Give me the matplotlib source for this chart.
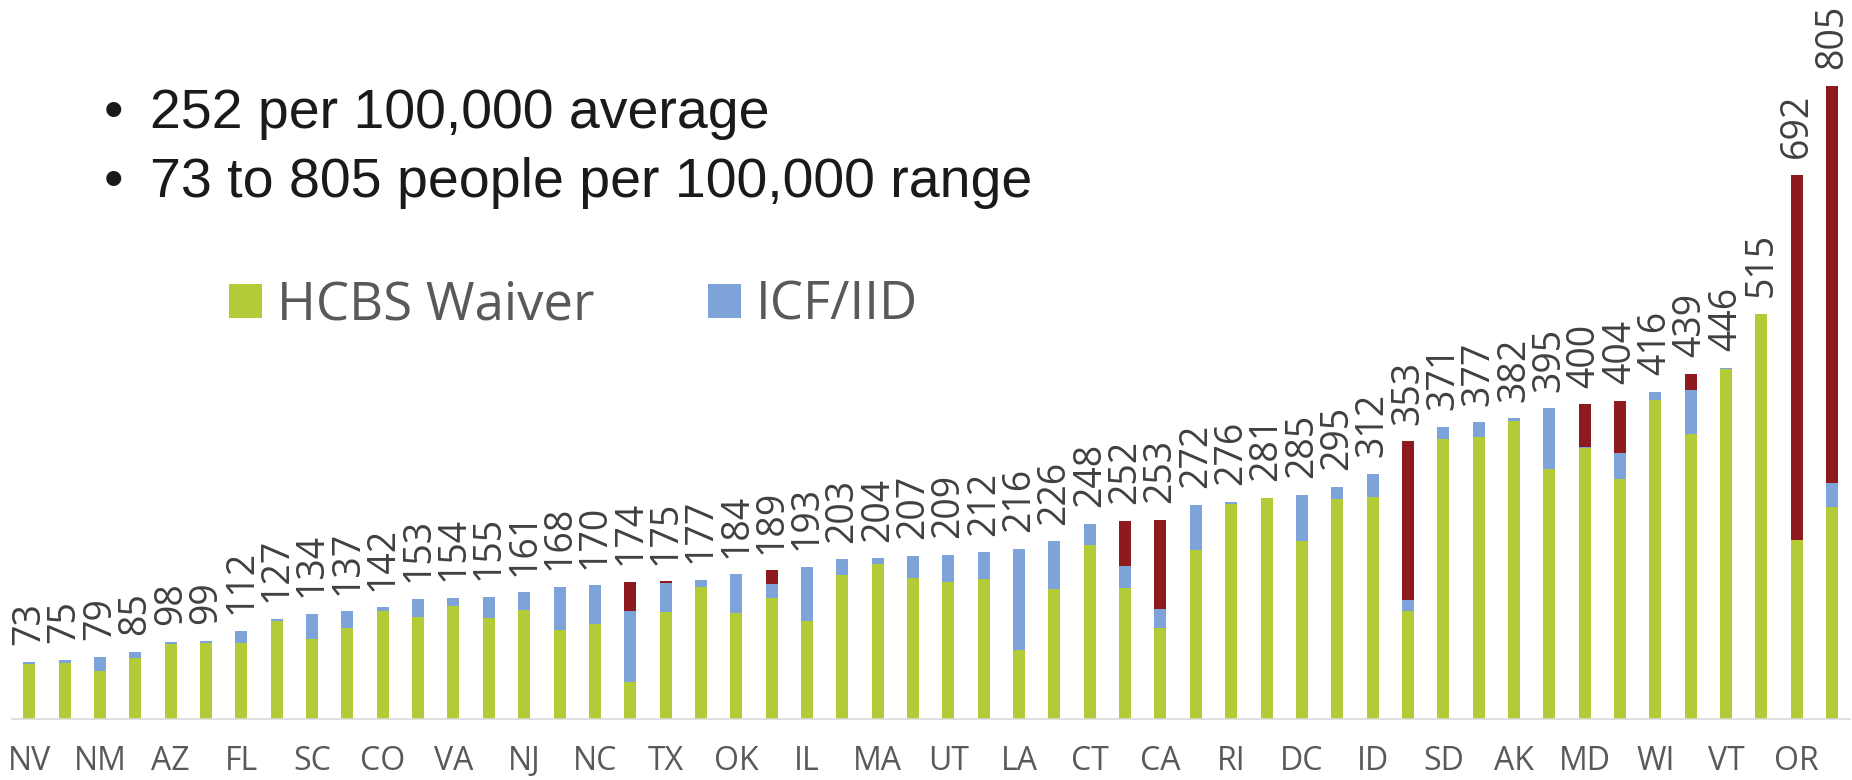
import matplotlib
matplotlib.use("Agg")
import matplotlib.pyplot as plt
from matplotlib.font_manager import FontProperties
import numpy as np

# ---- data ----
states = ['NV', '', 'NM', '', 'AZ', '', 'FL', '', 'SC', '', 'CO', '', 'VA', '',
          'NJ', '', 'NC', '', 'TX', '', 'OK', '', 'IL', '', 'MA', '', 'UT', '',
          'LA', '', 'CT', '', 'CA', '', 'RI', '', 'DC', '', 'ID', '', 'SD', '',
          'AK', '', 'MD', '', 'WI', '', 'VT', '', 'OR', '']
totals = [73, 75, 79, 85, 98, 99, 112, 127, 134, 137, 142, 153, 154, 155, 161,
          168, 170, 174, 175, 177, 184, 189, 193, 203, 204, 207, 209, 212, 216,
          226, 248, 252, 253, 272, 276, 281, 285, 295, 312, 353, 371, 377, 382,
          395, 400, 404, 416, 439, 446, 515, 692, 805]
hcbs_waiver = [70, 71, 61, 77, 95, 97, 96, 125, 102, 116, 137, 130, 144, 128, 138,
               113, 121, 47, 136, 168, 135, 154, 125, 183, 197, 179, 174, 178, 88,
               165, 221, 166, 116, 215, 273, 281, 226, 280, 282, 137, 356, 358, 379,
               318, 344, 305, 405, 362, 445, 515, 228, 269]
icf_iid = [3, 4, 18, 8, 3, 2, 16, 2, 32, 21, 5, 23, 10, 27, 23,
           55, 49, 90, 37, 9, 49, 17, 68, 20, 7, 28, 35, 34, 128,
           61, 27, 28, 24, 57, 3, 0, 59, 15, 30, 14, 15, 19, 3,
           77, 2, 33, 11, 56, 1, 0, 0, 31]
other = [0, 0, 0, 0, 0, 0, 0, 0, 0, 0, 0, 0, 0, 0, 0,
         0, 0, 37, 2, 0, 0, 18, 0, 0, 0, 0, 0, 0, 0,
         0, 0, 58, 113, 0, 0, 0, 0, 0, 0, 202, 0, 0, 0,
         0, 54, 66, 0, 21, 0, 0, 464, 505]
series_names = ['HCBS Waiver', 'ICF/IID']
bullets = ['252 per 100,000 average', '73 to 805 people per 100,000 range']

GREEN = '#B2CB36'
BLUE = '#7EA3D9'
RED = '#8C1A1F'

W, H = 1852, 780
fig = plt.figure(figsize=(W / 100, H / 100), dpi=100)
scale = 0.7868  # px per unit
ymax = 900
ax = fig.add_axes([11.6 / W, 61 / H, (1849.8 - 11.6) / W, ymax * scale / H])

x = np.arange(len(states))
g = np.array(hcbs_waiver)
b = np.array(icf_iid)
r = np.array(other)
bw = 0.34
bg = ax.bar(x, g, bw, color=GREEN, label=series_names[0])
bb = ax.bar(x, b, bw, bottom=g, color=BLUE, label=series_names[1])
br = ax.bar(x, r, bw, bottom=g + b, color=RED)

top = g + b + r
for i, t in enumerate(totals):
    ax.annotate(str(t), (x[i], top[i]), xytext=(0, 12), textcoords='offset points',
                rotation=90, ha='center', va='bottom', family='Open Sans',
                fontsize=27, color='#404040')

ax.set_xlim(-0.5, len(states) - 0.5)
ax.set_ylim(0, ymax)
ax.set_xticks(x)
ax.set_xticklabels(states, family='Open Sans', fontsize=23, color='#595959')
ax.tick_params(axis='x', length=0, pad=19)
ax.set_yticks([])
for s in ['left', 'right', 'top']:
    ax.spines[s].set_visible(False)
ax.spines['bottom'].set_color('#D9D9D9')
ax.spines['bottom'].set_linewidth(1.2)

# bullets
for k, txt in enumerate(bullets):
    yb = 1 - (128 + 69 * k) / H
    fig.text(113 / W, yb, '\u2022', ha='center', va='baseline',
             family='Liberation Sans', fontsize=40, color='#1a1a1a')
    fig.text(150 / W, yb, txt, ha='left', va='baseline',
             family='Liberation Sans', fontsize=40, color='#1a1a1a')

fig.legend([bg, bb], series_names, loc='upper left',
           bbox_to_anchor=(229 / W, 1 - 279 / H), ncol=2, frameon=False,
           borderpad=0, borderaxespad=0, handlelength=0.625, handleheight=0.625,
           handletextpad=0.28, columnspacing=2.15,
           prop=FontProperties(family='Open Sans', size=38), labelcolor='#595959')

fig.savefig('out.png', dpi=100)
